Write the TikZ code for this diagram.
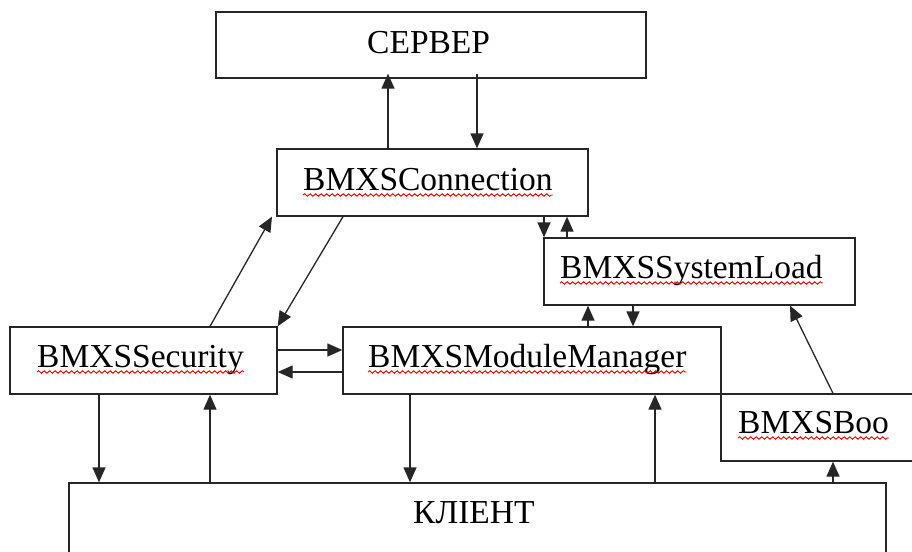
\documentclass[tikz,border=0pt]{standalone}
\usepackage{fontspec}
\setmainfont{Liberation Serif}
\usetikzlibrary{arrows.meta,decorations.pathmorphing}
\tikzset{
  box/.style={draw=black!85, line width=1.3pt, rectangle, inner sep=0pt},
  lbl/.style={inner sep=0pt, anchor=base west, font=\fontsize{33.5}{36}\selectfont},
  arr/.style={draw=black!85, line width=1.3pt, -{Triangle[length=15pt,width=13pt]}},
  wavy/.style={draw=red!90!black, line width=0.9pt, decorate, decoration={snake, amplitude=1.3pt, segment length=5.5pt}}
}
\newcommand{\wavyunder}[1]{\draw[wavy] ([yshift=-5pt]#1.base west) -- ([yshift=-5pt]#1.base east);}
\begin{document}
\begin{tikzpicture}[x=1pt,y=-1pt]
\useasboundingbox (0,0) rectangle (912,551);
\clip (0,0) rectangle (912,551);
% boxes
\node[box, minimum width=430pt, minimum height=66pt] (srv) at (431,45) {};
\node[box, minimum width=311pt, minimum height=67pt] (conn) at (432.5,182.5) {};
\node[box, minimum width=311pt, minimum height=67pt] (sysl) at (699.5,271.5) {};
\node[box, minimum width=267pt, minimum height=67pt] (sec) at (143.5,360.5) {};
\node[box, minimum width=378pt, minimum height=67pt] (mm) at (532,360.5) {};
\node[box, minimum width=230pt, minimum height=67pt] (boo) at (836,427.5) {};
\node[box, minimum width=817pt, minimum height=100pt] (cli) at (477.5,533) {};
% texts
\node[lbl] (tsrv) at (367,53) {СЕРВЕР};
\node[lbl] (tconn) at (303,190) {BMXSConnection};
\node[lbl] (tsysl) at (560,278) {BMXSSystemLoad};
\node[lbl] (tsec) at (37,367) {BMXSSecurity};
\node[lbl] (tmm) at (368,367) {BMXSModuleManager};
\node[lbl] (tboo) at (738,433) {BMXSBoo};
\node[lbl] (tcli) at (413,523) {КЛІЕНТ};
\wavyunder{tconn}
\wavyunder{tsysl}
\wavyunder{tsec}
\wavyunder{tmm}
\wavyunder{tboo}
% coordinates for gaps below server
\coordinate (s1) at ([yshift=5pt]srv.south -| 388,0);
\coordinate (s2) at ([yshift=5pt]srv.south -| 477,0);
% connectors
\draw[arr] (388,0 |- conn.north) -- (s1);
\draw[arr] (s2) -- (477,0 |- conn.north);
\draw[arr] (544,0 |- conn.south) -- (544,0 |- sysl.north);
\draw[arr] (567,0 |- sysl.north) -- (567,0 |- conn.south);
\draw[arr] (588,0 |- mm.north) -- (588,0 |- sysl.south);
\draw[arr] (633,0 |- sysl.south) -- (633,0 |- mm.north);
\draw[arr] (343,0 |- conn.south) -- (sec.north east);
\draw[arr] (210,0 |- sec.north) -- (272,0 |- conn.south);
\draw[arr] (sec.east |- 0,350) -- (mm.west |- 0,350);
\draw[arr] (mm.west |- 0,372) -- (sec.east |- 0,372);
\draw[arr] (99,0 |- sec.south) -- (99,0 |- cli.north);
\draw[arr] (210,0 |- cli.north) -- (210,0 |- sec.south);
\draw[arr] (410,0 |- mm.south) -- (410,0 |- cli.north);
\draw[arr] (655,0 |- cli.north) -- (655,0 |- mm.south);
\draw[arr] (833,0 |- boo.north) -- (790,0 |- sysl.south);
\draw[arr] (833,0 |- cli.north) -- (833,0 |- boo.south);
\end{tikzpicture}
\end{document}
